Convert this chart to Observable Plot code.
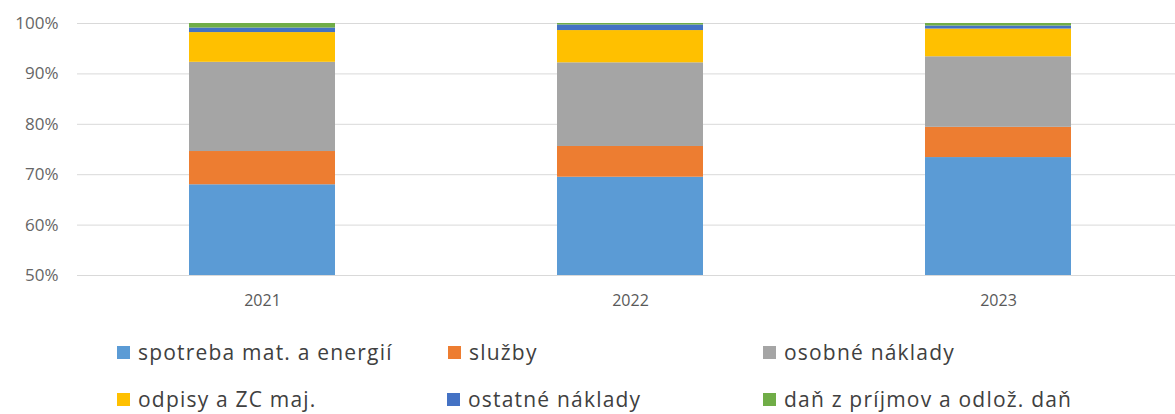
<!DOCTYPE html>
<html>
<head>
<meta charset="utf-8">
<script src="https://cdn.jsdelivr.net/npm/d3@7"></script>
<script src="https://cdn.jsdelivr.net/npm/@observablehq/plot@0.6"></script>
<style>
  html, body { margin: 0; padding: 0; background: #fff; }
  #wrap { position: relative; width: 1175px; height: 414px; font-family: "Open Sans", sans-serif; }
  .leg { position: absolute; display: flex; align-items: center; font-size: 21px; letter-spacing: 1.2px; color: #404040; white-space: nowrap; line-height: 1; }
  .sw { width: 13px; height: 13px; margin-right: 8px; flex: none; }
</style>
</head>
<body>
<div id="wrap"><div id="chart"></div></div>
<script>
const years = ["2021", "2022", "2023"];
const categories = ["spotreba mat. a energií", "služby", "osobné náklady", "odpisy a ZC maj.", "ostatné náklady", "daň z príjmov a odlož. daň"];
const spotreba = [68.0, 69.5, 73.4];
const sluzby   = [6.6, 6.1, 6.0];
const osobne   = [17.7, 16.6, 14.0];
const odpisy   = [5.9, 6.4, 5.5];
const ostatne  = [0.9, 1.1, 0.6];
const dan      = [0.9, 0.3, 0.5];
const yTicks = [50, 60, 70, 80, 90, 100];
const colors = ["#5b9bd5", "#ed7d31", "#a5a5a5", "#ffc000", "#4472c4", "#70ad47"];

const series = [spotreba, sluzby, osobne, odpisy, ostatne, dan];
const data = [];
years.forEach((yr, i) => {
  categories.forEach((c, j) => data.push({year: yr, cat: c, value: series[j][i]}));
});

const chart = Plot.plot({
  width: 1175,
  height: 315,
  marginLeft: 77,
  marginRight: 0,
  marginTop: 23,
  marginBottom: 40,
  style: {fontFamily: "Open Sans, sans-serif", fontSize: "16px", color: "#666", background: "#fff"},
  x: {domain: years, paddingInner: 0.602, paddingOuter: 0.289, align: 0.52, label: null, tickSize: 0, tickPadding: 19},
  y: {domain: [50, 100], ticks: yTicks, tickFormat: d => d + "%", label: null, tickSize: 0, tickPadding: 19},
  color: {domain: categories, range: colors},
  marks: [
    Plot.ruleY(yTicks, {stroke: "#d9d9d9", strokeWidth: 1}),
    Plot.barY(data, Plot.stackY({order: null}, {x: "year", y: "value", fill: "cat", clip: true})),
    Plot.axisX({tickSize: 0, tickPadding: 19, fontSize: 16, fill: "#595959", style: {letterSpacing: "0.6px"}}),
    Plot.axisY({ticks: yTicks, tickFormat: d => d + "%", tickSize: 0, tickPadding: 19, fontSize: 17, fill: "#666", style: {letterSpacing: "0.6px"}})
  ]
});
document.getElementById("chart").appendChild(chart);

const legPos = [[117, 352], [448, 352], [763, 352], [117, 399], [447, 399], [763, 399]];
const wrap = document.getElementById("wrap");
categories.forEach((c, i) => {
  const d = document.createElement("div");
  d.className = "leg";
  d.style.left = legPos[i][0] + "px";
  d.style.top = (legPos[i][1] - 12) + "px";
  d.style.height = "24px";
  const s = document.createElement("span");
  s.className = "sw";
  s.style.background = colors[i];
  const t = document.createElement("span");
  t.textContent = c;
  d.appendChild(s); d.appendChild(t);
  wrap.appendChild(d);
});
</script>
</body>
</html>
